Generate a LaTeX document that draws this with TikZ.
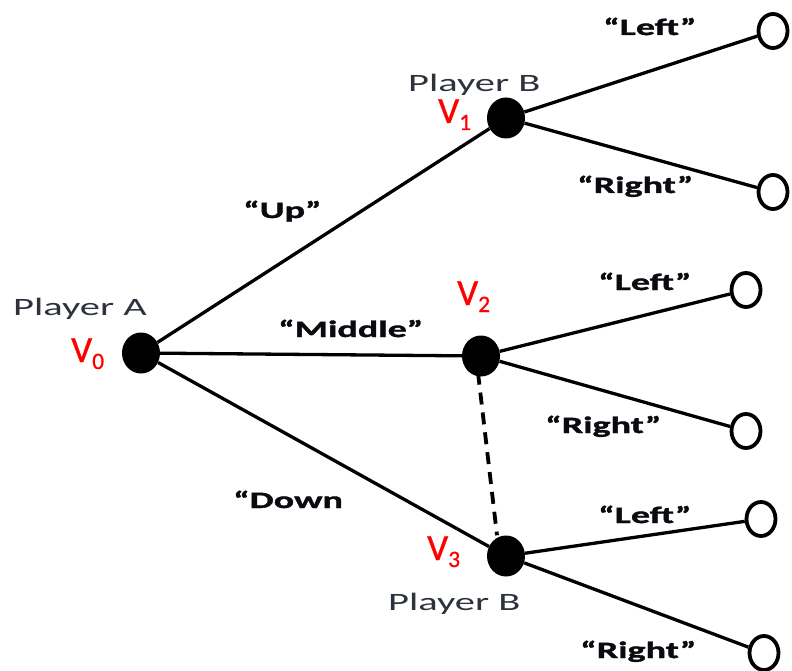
\documentclass[tikz,border=0pt]{standalone}
\usepackage{fontspec}
\setmainfont{Carlito}
\newfontfamily\labfont[FakeStretch=1.62, BoldFeatures={FakeBold=1.5}]{Carlito}
\newfontfamily\vfont[FakeBold=0.8]{Carlito}
\usetikzlibrary{shapes.geometric}
\definecolor{playergray}{RGB}{45,50,60}
\definecolor{labblack}{RGB}{10,10,15}
\tikzset{
  decision/.style={ellipse, fill=black, minimum width=38pt, minimum height=41pt, inner sep=0pt},
  leaf/.style={ellipse, draw=black, line width=3.8pt, fill=white, minimum width=29pt, minimum height=34pt, inner sep=0pt},
  edge/.style={line width=3.3pt, black},
  movelab/.style={anchor=base west, inner sep=0pt, font=\labfont\bfseries\fontsize{23.5}{26}\selectfont, text=labblack},
  playerlab/.style={anchor=base west, inner sep=0pt, font=\labfont\fontsize{25}{28}\selectfont, text=playergray},
  vlab/.style={anchor=base west, inner sep=0pt, text=red, font=\vfont\fontsize{37}{40}\selectfont}
}
\newcommand{\vsub}[1]{V{\fontsize{23.5}{25}\selectfont\raisebox{-7pt}{#1}}}
\begin{document}
\begin{tikzpicture}[x=1pt,y=-1pt]
\useasboundingbox (0,0) rectangle (792,671);
% decision nodes
\node[decision] (v0) at (141,353) {};
\node[decision] (v1) at (506,118) {};
\node[decision] (v2) at (481,356) {};
\node[decision] (v3) at (506,556) {};
% leaves
\node[leaf] (l1) at (773,31) {};
\node[leaf] (r1) at (773,192) {};
\node[leaf] (l2) at (746,290) {};
\node[leaf] (r2) at (746,431) {};
\node[leaf] (l3) at (761,519) {};
\node[leaf] (r3) at (764,653) {};
% edges
\draw[edge] (v0) -- (v1);
\draw[edge] (v0) -- (v2);
\draw[edge] (v0) -- (v3);
\draw[edge] (v1) -- (l1);
\draw[edge] (v1) -- (r1);
\draw[edge] (v2) -- (l2);
\draw[edge] (v2) -- (r2);
\draw[edge] (v3) -- (l3);
\draw[edge] (v3) -- (r3);
\draw[edge, line width=3.8pt, dash pattern=on 12pt off 8pt] ([xshift=-3pt,yshift=4pt]v2.south) -- ([xshift=-9pt]v3.north);
% player labels
\node[playerlab] (pa) at (13,315) {Player A};
\node[playerlab] (pb1) at (408,92) {Player B};
\node[playerlab] (pb3) at (388,610) {Player B};
% vertex labels
\node[vlab] (n0) at (71,362) {\vsub{0}};
\node[vlab] (n1) at (438,123) {\vsub{1}};
\node[vlab] (n2) at (457,305) {\vsub{2}};
\node[vlab] (n3) at (427,560) {\vsub{3}};
% move labels
\node[movelab] (up) at (243,218) {“Up”};
\node[movelab] (mid) at (278,337) {“Middle”};
\node[movelab] (down) at (233,508) {“Down};
\node[movelab] (lt1) at (603,35) {“Left”};
\node[movelab] (rt1) at (577,193) {“Right”};
\node[movelab] (lt2) at (598,290) {“Left”};
\node[movelab] (rt2) at (545,433) {“Right”};
\node[movelab] (lt3) at (598,523) {“Left”};
\node[movelab] (rt3) at (580,658) {“Right”};
\end{tikzpicture}
\end{document}
